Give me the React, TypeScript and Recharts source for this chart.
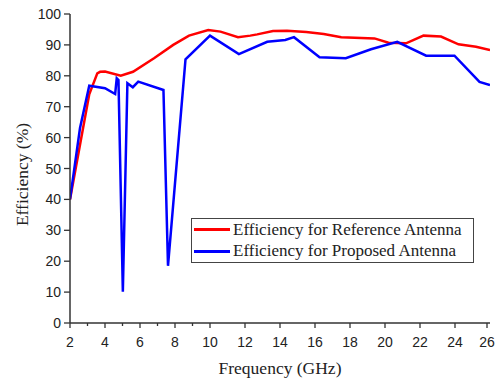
import { LineChart, Line, XAxis, YAxis, CartesianGrid, Legend } from "recharts";

// Reference antenna (red)
const refFreq = [2, 3.1, 3.56, 3.72, 4.0, 4.9, 5.6, 6.8, 7.9, 8.8, 9.9, 10.6, 11.6, 12.3, 12.7, 13.6, 14.4, 15.5, 16.5, 17.5, 19.4, 20.2, 21.2, 22.2, 23.2, 24.2, 25.2, 26];
const refEff = [40, 74, 80.8, 81.3, 81.4, 80.0, 81.3, 85.7, 90, 93, 94.8, 94.3, 92.5, 93, 93.4, 94.5, 94.6, 94.2, 93.5, 92.5, 92.1, 90.7, 90.5, 93, 92.7, 90.2, 89.4, 88.3];

// Proposed antenna (blue)
const propFreq = [2, 2.57, 3.1, 4.0, 4.58, 4.67, 4.77, 5.02, 5.28, 5.59, 5.9, 7.34, 7.6, 8.6, 10.0, 11.65, 13.27, 14.3, 14.8, 16.26, 17.76, 19.2, 20.7, 22.35, 23.97, 25.4, 26];
const propEff = [40, 63, 76.8, 76.0, 74.1, 79.2, 78.6, 10.1, 77.6, 76.3, 78.1, 75.4, 18.5, 85.3, 93, 87, 91, 91.6, 92.5, 86, 85.7, 88.6, 91, 86.5, 86.5, 78, 77];

const xTicks = [2, 3, 4, 5, 6, 7, 8, 9, 10, 11, 12, 13, 14, 15, 16, 17, 18, 19, 20, 21, 22, 23, 24, 25, 26];
const yTicks = [0, 5, 10, 15, 20, 25, 30, 35, 40, 45, 50, 55, 60, 65, 70, 75, 80, 85, 90, 95, 100];
const topTicks = [0, 1, 2, 3, 4, 5, 6, 7, 8, 9, 10];
const rightTicks = [0, 10, 20, 30, 40, 50, 60, 70, 80, 90, 100];
const gridValues = [10, 20, 30, 40, 50, 60, 70, 80, 90];

const reference = refFreq.map((f, i) => ({ f, eff: refEff[i] }));
const proposed = propFreq.map((f, i) => ({ f, eff: propEff[i] }));

const series = [
  { key: "ref", name: "Efficiency for Reference Antenna", color: "#ff0000", data: reference },
  { key: "prop", name: "Efficiency for Proposed Antenna", color: "#0000ff", data: proposed },
];

const AXIS = "#333";
const SANS = "'Liberation Sans', Arial, sans-serif";
const SERIF = "'Liberation Serif', 'Times New Roman', serif";

const BottomTick = ({ x, y, payload }: any) => {
  const v = payload.value;
  const major = v % 2 === 0;
  return (
    <g>
      <line x1={x} x2={x} y1={y} y2={y + (major ? 5 : 3)} stroke={AXIS} strokeWidth={1.3} />
      {major && (
        <text x={x} y={y + 24} textAnchor="middle" fontSize={14} fontFamily={SANS} fill="#222">
          {v}
        </text>
      )}
    </g>
  );
};

const LeftTick = ({ x, y, payload }: any) => {
  const v = payload.value;
  const major = v % 10 === 0;
  return (
    <g>
      <line x1={x - (major ? 6 : 3)} x2={x} y1={y} y2={y} stroke={AXIS} strokeWidth={1.3} />
      {major && (
        <text x={x - 9} y={y + 5} textAnchor="end" fontSize={14} fontFamily={SANS} fill="#222">
          {v}
        </text>
      )}
    </g>
  );
};

const TopTick = ({ x, y }: any) => (
  <line x1={x} x2={x} y1={y} y2={y + 6} stroke={AXIS} strokeWidth={1.3} />
);

const RightTick = ({ x, y }: any) => (
  <line x1={x - 6} x2={x} y1={y} y2={y} stroke={AXIS} strokeWidth={1.3} />
);

const LegendBox = () => (
  <div
    style={{
      border: "1px solid #444",
      background: "#fff",
      fontFamily: SERIF,
      fontSize: 17,
      color: "#222",
      paddingRight: 4,
    }}
  >
    {series.map((s) => (
      <div key={s.key} style={{ display: "flex", alignItems: "center", height: 21.5, whiteSpace: "nowrap" }}>
        <span style={{ display: "inline-block", width: 36, height: 3, background: s.color, margin: "0 3px 0 2px" }} />
        {s.name}
      </div>
    ))}
  </div>
);

export default function App() {
  return (
    <div style={{ position: "absolute", left: 0, top: 0, background: "#fff" }}>
      <LineChart width={495} height={379} margin={{ top: 14, right: 5, bottom: 0, left: 0 }}>
        <CartesianGrid horizontal vertical={false} horizontalValues={gridValues} stroke="#d4d4d4" />
        <XAxis
          xAxisId="bottom"
          dataKey="f"
          type="number"
          domain={[2, 26]}
          ticks={xTicks}
          allowDataOverflow
          height={56}
          tickSize={0}
          tickMargin={0}
          tickLine={false}
          tick={<BottomTick />}
          axisLine={{ stroke: AXIS, strokeWidth: 1.5 }}
          label={{ value: "Frequency (GHz)", position: "insideBottom", offset: 5, fontSize: 17.5, fontFamily: SERIF, fill: "#222" }}
        />
        <XAxis
          xAxisId="top"
          orientation="top"
          type="number"
          domain={[0, 10]}
          ticks={topTicks}
          height={0}
          tickSize={0}
          tickMargin={0}
          tickLine={false}
          tick={<TopTick />}
          axisLine={{ stroke: AXIS, strokeWidth: 1.5 }}
        />
        <YAxis
          yAxisId="left"
          type="number"
          domain={[0, 100]}
          ticks={yTicks}
          allowDataOverflow
          width={70}
          tickSize={0}
          tickMargin={0}
          tickLine={false}
          tick={<LeftTick />}
          axisLine={{ stroke: AXIS, strokeWidth: 1.5 }}
          label={{
            value: "Efficiency (%)",
            angle: -90,
            position: "insideLeft",
            offset: 22,
            dy: 6,
            fontSize: 17.5,
            fontFamily: SERIF,
            fill: "#222",
            style: { textAnchor: "middle" },
          }}
        />
        <YAxis
          yAxisId="right"
          orientation="right"
          type="number"
          domain={[0, 100]}
          ticks={rightTicks}
          width={0}
          tickSize={0}
          tickMargin={0}
          tickLine={false}
          tick={<RightTick />}
          axisLine={{ stroke: AXIS, strokeWidth: 1.5 }}
        />
        {series.map((s) => (
          <Line
            key={s.key}
            xAxisId="bottom"
            yAxisId="left"
            data={s.data}
            dataKey="eff"
            name={s.name}
            type="linear"
            stroke={s.color}
            strokeWidth={2.5}
            dot={false}
            activeDot={false}
            isAnimationActive={false}
          />
        ))}
        <Legend
          layout="horizontal"
          verticalAlign="middle"
          align="center"
          content={<LegendBox />}
          wrapperStyle={{ left: 191, top: 218, width: 283, height: 45 }}
        />
      </LineChart>
    </div>
  );
}
